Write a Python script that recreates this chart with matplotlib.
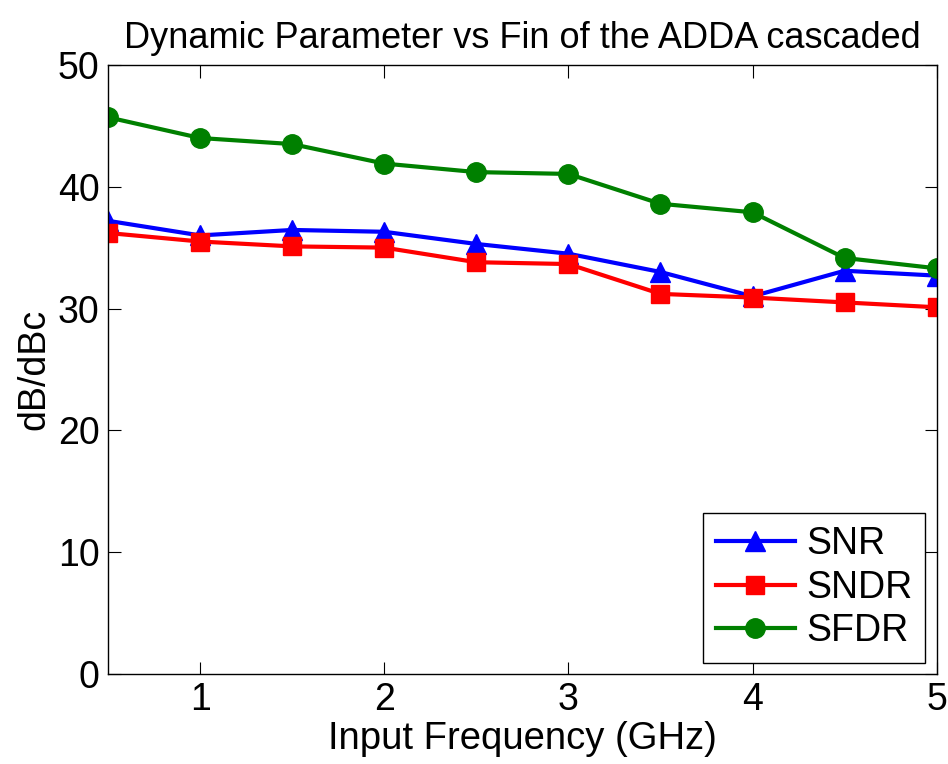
import matplotlib
matplotlib.use('Agg')
import matplotlib.pyplot as plt

plt.rcParams['font.family'] = ['Liberation Sans', 'DejaVu Sans']

fin = [0.5, 1, 1.5, 2, 2.5, 3, 3.5, 4, 4.5, 5]
snr = [37.2, 36.0, 36.45, 36.3, 35.3, 34.5, 33.0, 31.0, 33.1, 32.7]
sndr = [36.2, 35.5, 35.1, 35.0, 33.8, 33.65, 31.2, 30.9, 30.5, 30.1]
sfdr = [45.7, 44.0, 43.5, 41.9, 41.2, 41.05, 38.6, 37.9, 34.15, 33.3]

fig = plt.figure(figsize=(9.48, 7.64), dpi=100)
ax = fig.add_axes([0.114, 0.118, 0.874, 0.797])

ax.plot(fin, snr, '-^', color='blue', lw=3, ms=15, label='SNR')
ax.plot(fin, sndr, '-s', color='red', lw=3, ms=13, label='SNDR')
ax.plot(fin, sfdr, '-o', color='green', lw=3, ms=14, label='SFDR')

ax.set_xlim(0.5, 5)
ax.set_ylim(0, 50)
ax.set_xticks([1, 2, 3, 4, 5])
ax.set_yticks([0, 10, 20, 30, 40, 50])
ax.tick_params(direction='in', top=True, right=True, labelsize=27, length=9, pad=6)
for s in ax.spines.values():
    s.set_linewidth(1)

ax.set_xlabel('Input Frequency (GHz)', fontsize=27.5, labelpad=2)
ax.set_ylabel('dB/dBc', fontsize=27, labelpad=4)
ax.set_title('Dynamic Parameter vs Fin of the ADDA cascaded', fontsize=26, pad=12)

leg = ax.legend(loc='lower right', fontsize=27, fancybox=False, edgecolor='black',
                framealpha=1, handlelength=2.1, borderaxespad=0.3, labelspacing=0.2,
                handletextpad=0.3, borderpad=0.35)
leg.get_frame().set_linewidth(1)

fig.savefig('out.png', dpi=100)
